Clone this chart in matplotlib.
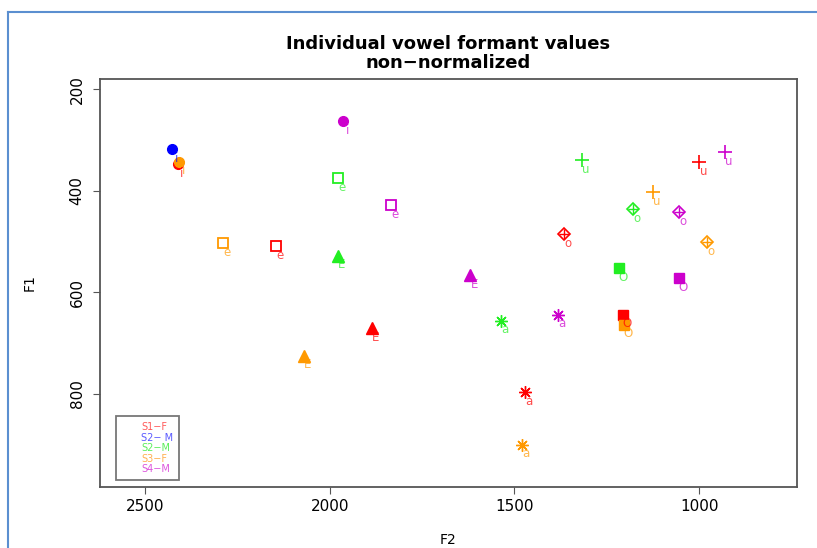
import matplotlib.pyplot as plt
import numpy as np
from matplotlib.lines import Line2D

# vowel labels and marker per vowel (R pch style)
vowels = ["i", "e", "E", "a", "o", "O", "u"]

# F2 / F1 per speaker (Hz); None = not plotted
s1_f_f2 = [2412, 2145, 1886, 1471, 1366, 1206, 1000]
s1_f_f1 = [348, 509, 670, 796, 485, 644, 344]
s2_m_f2 = [2427, None, None, None, None, None, None]
s2_m_f1 = [318, None, None, None, None, None, None]
s2g_m_f2 = [None, 1978, 1978, 1536, 1179, 1217, 1317]
s2g_m_f1 = [None, 375, 528, 656, 436, 552, 340]
s3_f_f2 = [2408, 2289, 2070, 1479, 979, 1203, 1125]
s3_f_f1 = [343, 503, 725, 900, 501, 664, 403]
s4_m_f2 = [1964, 1834, 1620, 1382, 1054, 1054, 930]
s4_m_f1 = [263, 428, 566, 644, 442, 572, 324]

speakers = ["S1\u2212F", "S2\u2212 M", "S2\u2212M", "S3\u2212F", "S4\u2212M"]
colors = ["#ff0000", "#0000ff", "#22ee22", "#ff9900", "#cc00cc"]
legend_colors = ["#ff5a5a", "#5a5aff", "#5aee5a", "#ffb050", "#dd55dd"]

plt.rcParams['font.family'] = ['DejaVu Sans']

fig = plt.figure(figsize=(8.17, 5.48), dpi=100)
ax = fig.add_axes([0.1224, 0.1113, 0.8531, 0.7445])

data = [(s1_f_f2, s1_f_f1), (s2_m_f2, s2_m_f1), (s2g_m_f2, s2g_m_f1),
        (s3_f_f2, s3_f_f1), (s4_m_f2, s4_m_f1)]

for (f2s, f1s), col in zip(data, colors):
    for v, x, y in zip(vowels, f2s, f1s):
        if x is None:
            continue
        if v == "i":
            ax.plot(x, y, marker="o", ms=7, color=col, mec=col, ls="none")
        elif v == "e":
            ax.plot(x, y, marker="s", ms=7, mfc="none", mec=col, mew=1.3, ls="none")
        elif v == "E":
            ax.plot(x, y, marker="^", ms=8, color=col, ls="none")
        elif v == "a":
            ax.plot(x, y, marker=(8, 2, 0), ms=9, color=col, mew=1.0, ls="none")
        elif v == "o":
            ax.plot(x, y, marker="D", ms=6.5, mfc="none", mec=col, mew=1.2, ls="none")
            ax.plot(x, y, marker="+", ms=7, color=col, mew=1.0, ls="none")
        elif v == "O":
            ax.plot(x, y, marker="s", ms=6.5, color=col, ls="none")
        elif v == "u":
            ax.plot(x, y, marker="+", ms=10, color=col, mew=1.2, ls="none")
        ax.annotate(v, (x, y), xytext=(3, -6.5), textcoords="offset points",
                    ha="center", va="center", fontsize=8.5, color=col, alpha=0.7)

ax.set_xlim(2622, 735)
ax.set_ylim(983, 180)
ax.set_xticks([2500, 2000, 1500, 1000])
ax.set_yticks([200, 400, 600, 800])
ax.tick_params(labelsize=11, length=5, color="#555555")
ax.tick_params(axis="y", pad=6)
for lab in ax.get_yticklabels():
    lab.set_rotation(90)
    lab.set_va("center")
for sp in ax.spines.values():
    sp.set_color("#555555")
    sp.set_linewidth(1.3)

ax.set_xlabel("F2", fontsize=10, labelpad=14)
ax.set_ylabel("F1", fontsize=10, labelpad=24)
ax.set_title("Individual vowel formant values\nnon\u2212normalized",
             fontsize=13, fontweight="bold", pad=8, linespacing=1.1)

handles = [Line2D([], [], ls="none") for _ in speakers]
leg = ax.legend(handles, speakers, loc="lower left", fontsize=7,
                labelcolor=legend_colors, frameon=True, fancybox=False,
                handlelength=1.2, handletextpad=0.8, borderpad=0.6,
                labelspacing=0.05, bbox_to_anchor=(0.016, 0.005))
leg.get_frame().set_edgecolor("#555555")
leg.get_frame().set_linewidth(1.3)

# blue outer frame of the screenshot
fig.add_artist(Line2D([8 / 817, 8 / 817], [0, 1 - 12 / 548], color="#5b8fd0", lw=1.5))
fig.add_artist(Line2D([8 / 817, 1], [1 - 12 / 548, 1 - 12 / 548], color="#5b8fd0", lw=1.5))

fig.savefig("out.png", dpi=100)
